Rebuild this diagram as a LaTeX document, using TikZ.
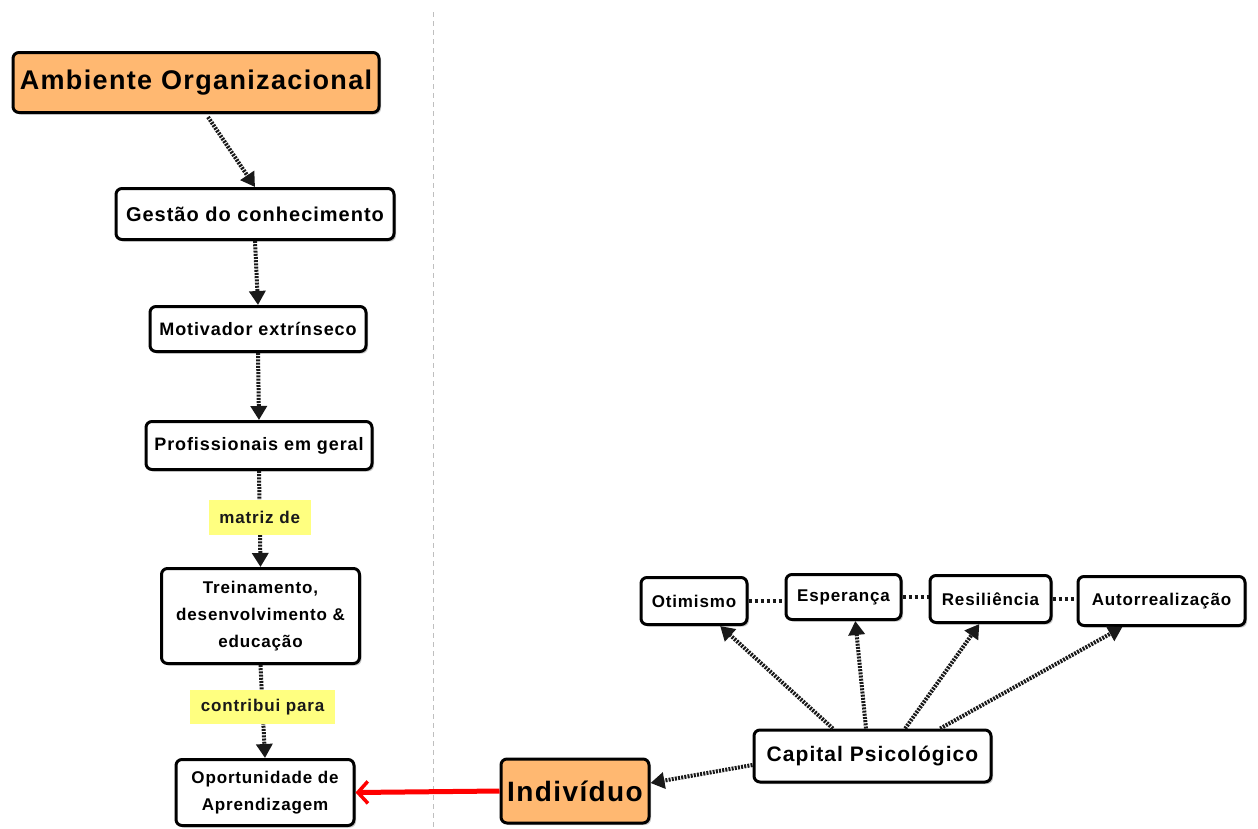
\documentclass[tikz,border=0pt]{standalone}
\usepackage{fontspec}
\setmainfont{Liberation Sans}
\newfontfamily\lab[LetterSpace=5]{Liberation Sans}
\usetikzlibrary{arrows.meta,calc,shadows}
\definecolor{orangefill}{HTML}{FFB871}
\definecolor{yellowlbl}{HTML}{FFFF80}
\newcommand{\fs}[2]{\fontsize{#1}{#2}\selectfont}
\begin{document}
\begin{tikzpicture}[x=1pt,y=-1pt,
  box/.style={draw=black, line width=3pt, rounded corners=6pt, fill=white, align=center,
    inner sep=2pt, font=\lab\bfseries,
    drop shadow={shadow xshift=2pt, shadow yshift=-2pt, fill=black!35, opacity=0.6}},
  obox/.style={box, fill=orangefill},
  lbl/.style={fill=yellowlbl, inner sep=2pt, font=\lab\bfseries\fs{17}{20}},
  conn/.style={line width=4pt, black!90, dash pattern=on 2pt off 1.2pt, -{Triangle[length=14pt,width=16pt]}},
  plain/.style={line width=4pt, black!90, dash pattern=on 3.5pt off 2.5pt},
  redarrow/.style={line width=5pt, red, -{Straight Barb[length=10pt,width=22pt,line width=3.5pt]}}
]
\useasboundingbox (0,0) rectangle (1258,828);
\fill[white] (0,0) rectangle (1258,828);
\draw[black!25, line width=1pt, dash pattern=on 5pt off 4pt] (433,12) -- (433,828);

\node[obox, minimum width=366pt, minimum height=60pt, font=\lab\bfseries\fs{27}{32}] (amb) at (196,82.5) {Ambiente Organizacional};
\node[box, minimum width=278pt, minimum height=51pt, font=\lab\bfseries\fs{20}{24}] (gest) at (255,214) {Gestão do conhecimento};
\node[box, minimum width=216pt, minimum height=45pt, font=\lab\bfseries\fs{18}{22}] (motiv) at (258,329) {Motivador extrínseco};
\node[box, minimum width=226pt, minimum height=48pt, font=\lab\bfseries\fs{18}{22}] (prof) at (259,445.5) {Profissionais em geral};
\node[box, minimum width=198pt, minimum height=95pt, font=\lab\bfseries\fs{17}{27}] (trein) at (260.5,616) {Treinamento,\\desenvolvimento \&\\educação};
\node[box, minimum width=178pt, minimum height=66pt, font=\lab\bfseries\fs{17}{27}] (oport) at (265,792.5) {Oportunidade de\\Aprendizagem};
\node[obox, minimum width=148pt, minimum height=64pt, font=\lab\bfseries\fs{28}{32}] (indiv) at (575,791) {Indivíduo};
\node[box, minimum width=237pt, minimum height=52pt, font=\lab\bfseries\fs{21}{25}] (cap) at (872.5,756) {Capital Psicológico};
\node[box, minimum width=106pt, minimum height=47pt, font=\lab\bfseries\fs{17}{20}] (otim) at (694,601) {Otimismo};
\node[box, minimum width=115pt, minimum height=45pt, font=\lab\bfseries\fs{17}{20}] (esp) at (843.5,597) {Esperança};
\node[box, minimum width=121pt, minimum height=47pt, font=\lab\bfseries\fs{17}{20}] (resil) at (990.5,599) {Resiliência};
\node[box, minimum width=167pt, minimum height=49pt, font=\lab\bfseries\fs{17}{20}] (auto) at (1161.5,601) {Autorrealização};

\draw[conn] ($(amb.south)+(12,3)$) -- (gest.north);
\draw[conn] (gest.south) -- (motiv.north);
\draw[conn] (motiv.south) -- (prof.north);
\draw[conn] (prof.south) -- node[lbl, pos=0.48, minimum width=102pt, minimum height=35pt] {matriz de} (trein.north);
\draw[conn] (trein.south) -- node[lbl, pos=0.45, minimum width=145pt, minimum height=34pt] {contribui para} (oport.north);
\draw[redarrow] (indiv.west) -- (oport.east);
\draw[conn] ($(cap.west)+(0,9)$) -- ($(indiv.east)+(0,-8)$);
\draw[conn] ($(cap.north west)!0.335!(cap.north east)$) -- ($(otim.south west)!0.74!(otim.south east)$);
\draw[conn] ($(cap.north west)!0.473!(cap.north east)$) -- ($(esp.south west)!0.6!(esp.south east)$);
\draw[conn] ($(cap.north west)!0.636!(cap.north east)$) -- ($(resil.south west)!0.41!(resil.south east)$);
\draw[conn] ($(cap.north west)!0.782!(cap.north east)$) -- ($(auto.south west)!0.27!(auto.south east)$);
\draw[plain] (otim.east) -- (otim.east -| esp.west);
\draw[plain] (esp.east) -- (esp.east -| resil.west);
\draw[plain] (resil.east) -- (resil.east -| auto.west);
\end{tikzpicture}
\end{document}
